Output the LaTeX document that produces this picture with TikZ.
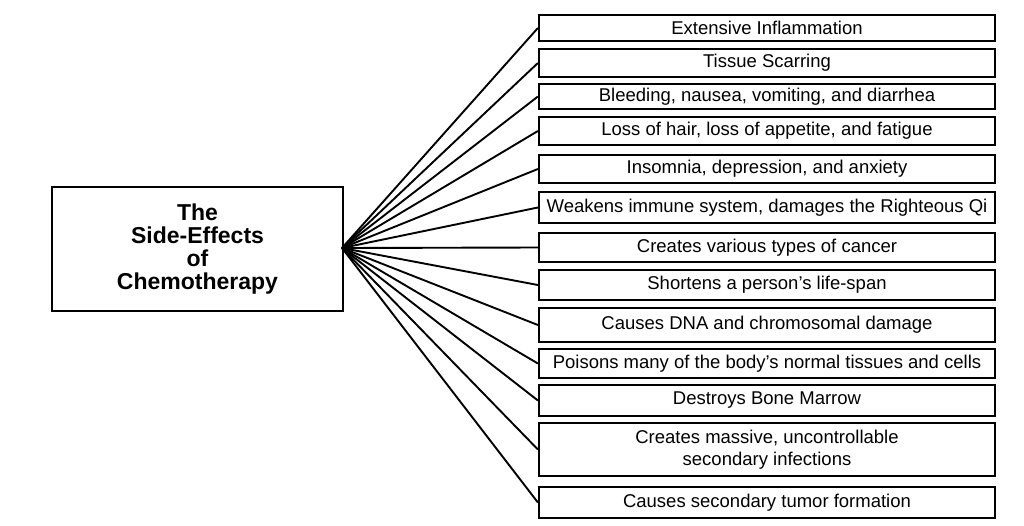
\documentclass[tikz,border=0pt]{standalone}
\usepackage{fontspec}
\setmainfont{Liberation Sans}
\tikzset{
  effect/.style={draw, line width=2.2pt, minimum width=456pt, inner sep=0pt,
    align=center, font=\fontsize{18.5}{22}\selectfont},
  title/.style={draw, line width=2.2pt, minimum width=291pt, minimum height=124pt,
    align=center, font=\fontsize{23}{22.7}\selectfont\bfseries},
  spoke/.style={line width=1.9pt}
}
\begin{document}
\begin{tikzpicture}[x=1pt,y=-1pt]
\useasboundingbox (0,0) rectangle (1024,525);
\node[title] (chemo) at (197.5,249) {The\\Side-Effects\\of\\Chemotherapy};
\coordinate (hub) at (342,248);
% effects, top to bottom
\node[effect, minimum height=26pt] (e1) at (767,28) {Extensive Inflammation};
\node[effect, minimum height=28pt] (e2) at (767,63) {Tissue Scarring};
\node[effect, minimum height=25pt] (e3) at (767,96.5) {Bleeding, nausea, vomiting, and diarrhea};
\node[effect, minimum height=28pt] (e4) at (767,131) {Loss of hair, loss of appetite, and fatigue};
\node[effect, minimum height=28pt] (e5) at (767,169) {Insomnia, depression, and anxiety};
\node[effect, minimum height=31pt] (e6) at (767,207.5) {Weakens immune system, damages the Righteous Qi};
\node[effect, minimum height=29pt] (e7) at (767,247.5) {Creates various types of cancer};
\node[effect, minimum height=30pt] (e8) at (767,285) {Shortens a person’s life-span};
\node[effect, minimum height=34pt] (e9) at (767,325) {Causes DNA and chromosomal damage};
\node[effect, minimum height=29pt] (e10) at (767,363.5) {Poisons many of the body’s normal tissues and cells};
\node[effect, minimum height=31pt] (e11) at (767,400.5) {Destroys Bone Marrow};
\node[effect, minimum height=53pt] (e12) at (767,449.5) {Creates massive, uncontrollable\\secondary infections};
\node[effect, minimum height=31pt] (e13) at (767,502.5) {Causes secondary tumor formation};
% spokes
\draw[spoke] (hub) -- (e1.west);
\draw[spoke] (hub) -- (e2.west);
\draw[spoke] (hub) -- (e3.west);
\draw[spoke] (hub) -- (e4.west);
\draw[spoke] (hub) -- (e5.west);
\draw[spoke] (hub) -- (e6.west);
\draw[spoke] (hub) -- (e7.west);
\draw[spoke] (hub) -- (e8.west);
\draw[spoke] (hub) -- (e9.west);
\draw[spoke] (hub) -- (e10.west);
\draw[spoke] (hub) -- (e11.west);
\draw[spoke] (hub) -- (e12.west);
\draw[spoke] (hub) -- (e13.west);
\end{tikzpicture}
\end{document}
